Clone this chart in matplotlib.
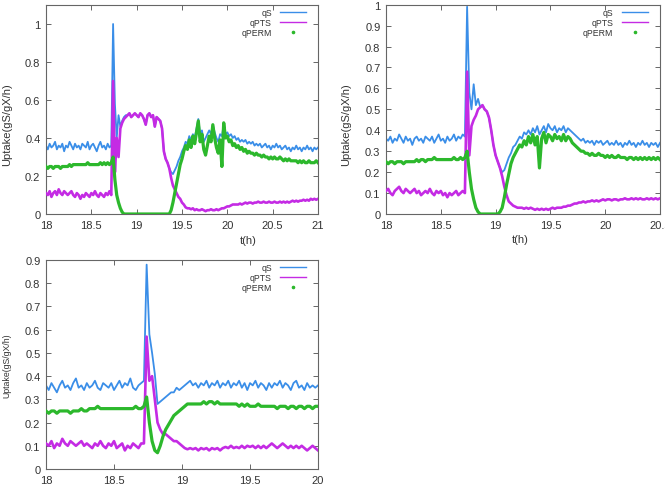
import numpy as np
import matplotlib
matplotlib.use("Agg")
import matplotlib.pyplot as plt
from matplotlib.lines import Line2D

plt.rcParams['font.family'] = ['Liberation Sans', 'DejaVu Sans']

# ---------------- Panel 1 (t = 18 .. 21, step 0.02) ----------------
t1 = np.linspace(18.0, 21.0, 151)
qS_1 = [0.36,0.34,0.37,0.35,0.36,0.38,0.34,0.36,0.35,0.37,0.33,0.36,0.35,0.38,0.36,0.34,0.37,0.35,0.36,0.34,
        0.37,0.36,0.35,0.38,0.34,0.36,0.37,0.35,0.33,0.36,0.38,0.35,0.36,0.34,0.37,0.35,0.36,
        1.00,0.58,0.40,0.52,0.46,0.49,0.51,0.52,
        0.52,0.53,0.51,0.52,0.53,0.52,0.51,0.53,0.52,0.50,0.47,0.52,0.53,0.51,0.52,0.46,0.51,0.50,0.49,0.45,
        0.33,0.29,0.27,0.24,0.22,0.21,0.23,0.25,0.28,0.30,0.33,0.35,0.38,0.37,0.41,0.39,0.42,0.40,0.45,0.50,
        0.42,0.44,0.38,0.40,0.42,0.44,0.42,0.47,0.43,0.40,0.38,0.42,0.41,0.47,0.42,0.43,0.41,0.42,0.40,0.41,
        0.39,0.40,0.38,0.39,0.38,0.39,0.37,0.38,0.37,0.38,0.36,0.37,0.36,0.37,0.35,0.36,0.37,0.35,0.36,0.34,
        0.36,0.35,0.37,0.35,0.36,0.34,0.35,0.36,0.34,0.35,0.33,0.35,0.34,0.36,0.34,0.35,0.33,0.35,0.34,0.36,
        0.34,0.35,0.33,0.35,0.34,0.35]
qPTS_1 = [0.11,0.10,0.12,0.09,0.11,0.12,0.10,0.13,0.11,0.10,0.12,0.11,0.10,0.11,0.12,0.10,0.09,0.11,0.10,0.08,
          0.10,0.09,0.11,0.10,0.09,0.11,0.10,0.12,0.10,0.09,0.11,0.10,0.09,0.11,0.10,0.12,0.10,
          0.70,0.22,0.40,0.30,0.45,0.48,0.50,0.51,
          0.52,0.53,0.51,0.52,0.53,0.52,0.51,0.53,0.52,0.50,0.47,0.52,0.53,0.51,0.52,0.46,0.51,0.50,0.49,0.45,
          0.33,0.29,0.27,0.24,0.19,0.15,0.13,0.11,0.09,0.08,0.06,0.05,0.035,0.03,0.03,0.025,0.03,0.02,0.025,0.02,
          0.02,0.025,0.02,0.015,0.02,0.02,0.025,0.02,0.02,0.025,0.02,0.025,0.03,0.03,0.035,0.04,0.04,0.045,0.05,0.05,
          0.05,0.05,0.055,0.05,0.055,0.06,0.055,0.06,0.06,0.055,0.06,0.06,0.065,0.06,0.06,0.065,0.06,0.06,0.065,0.06,
          0.06,0.065,0.06,0.06,0.065,0.06,0.065,0.06,0.065,0.06,0.065,0.07,0.065,0.07,0.065,0.07,0.07,0.075,0.07,0.075,
          0.07,0.08,0.075,0.08,0.075,0.08]
qPERM_1 = [0.25,0.24,0.25,0.25,0.24,0.25,0.25,0.25,0.24,0.25,0.25,0.25,0.25,0.26,0.25,0.26,0.26,0.26,0.26,0.26,
           0.26,0.26,0.26,0.27,0.26,0.26,0.26,0.26,0.26,0.26,0.27,0.26,0.27,0.26,0.27,0.26,0.27,
           0.30,0.18,0.10,0.06,0.03,0.01,0.00,0.00,
           0,0,0,0,0,0,0,0,0,0,0,0,0,0,0,0,0,0,0,0,
           0,0,0,0.00,0.02,0.06,0.11,0.16,0.21,0.26,0.29,0.33,0.36,0.34,0.39,0.35,0.41,0.37,0.43,0.49,
           0.38,0.42,0.34,0.31,0.36,0.41,0.38,0.47,0.40,0.35,0.32,0.39,0.25,0.48,0.40,0.41,0.38,0.39,0.36,0.37,
           0.35,0.36,0.34,0.35,0.33,0.34,0.32,0.33,0.32,0.32,0.31,0.32,0.31,0.31,0.30,0.31,0.30,0.30,0.29,0.30,
           0.29,0.30,0.29,0.29,0.30,0.29,0.28,0.29,0.28,0.29,0.28,0.28,0.28,0.28,0.27,0.28,0.27,0.28,0.27,0.27,
           0.28,0.27,0.27,0.27,0.28,0.27]

# ---------------- Panel 2 (t = 18 .. 20.5, step 0.02) ----------------
t2 = np.linspace(18.0, 20.5, 126)
qS_2 = [0.36,0.35,0.37,0.34,0.36,0.35,0.38,0.36,0.34,0.37,0.35,0.36,0.33,0.36,0.37,0.35,0.36,0.34,0.37,0.36,
        0.35,0.37,0.34,0.36,0.38,0.35,0.36,0.34,0.37,0.35,0.36,0.38,0.35,0.37,0.36,0.38,0.37,
        0.99,0.58,0.50,0.62,0.52,0.55,0.51,0.52,0.50,0.49,0.46,0.40,0.33,0.28,0.25,0.22,0.20,0.21,0.24,0.27,
        0.29,0.32,0.33,0.35,0.37,0.36,0.39,0.38,0.40,0.38,0.41,0.39,0.42,0.38,0.40,0.42,0.39,0.43,0.41,0.40,
        0.42,0.39,0.41,0.40,0.42,0.39,0.41,0.40,0.39,0.38,0.37,0.36,0.35,0.36,0.34,0.35,0.34,0.35,0.33,0.35,
        0.34,0.35,0.33,0.34,0.35,0.33,0.34,0.33,0.35,0.33,0.34,0.32,0.34,0.33,0.35,0.33,0.34,0.32,0.34,0.33,
        0.35,0.33,0.34,0.32,0.34,0.33,0.34,0.32,0.34]
qPTS_2 = [0.11,0.12,0.10,0.09,0.11,0.12,0.13,0.11,0.10,0.12,0.11,0.10,0.11,0.12,0.10,0.11,0.09,0.10,0.11,0.10,
          0.12,0.10,0.09,0.11,0.10,0.11,0.09,0.10,0.08,0.10,0.09,0.10,0.11,0.09,0.10,0.11,0.10,
          0.68,0.28,0.42,0.45,0.47,0.50,0.51,0.52,0.50,0.49,0.46,0.40,0.33,0.28,0.25,0.22,0.18,0.13,0.09,0.06,
          0.05,0.04,0.035,0.03,0.03,0.03,0.025,0.03,0.025,0.03,0.025,0.02,0.025,0.02,0.025,0.02,0.025,0.02,0.025,0.03,
          0.025,0.03,0.03,0.03,0.035,0.035,0.04,0.04,0.045,0.05,0.05,0.055,0.055,0.06,0.055,0.06,0.06,0.065,0.06,0.065,
          0.06,0.065,0.07,0.065,0.07,0.07,0.065,0.07,0.07,0.065,0.07,0.07,0.075,0.07,0.07,0.075,0.07,0.075,0.07,0.075,
          0.07,0.07,0.075,0.07,0.075,0.07,0.075,0.07,0.075]
qPERM_2 = [0.25,0.24,0.25,0.25,0.24,0.25,0.25,0.25,0.24,0.25,0.25,0.25,0.25,0.25,0.26,0.25,0.26,0.26,0.25,0.26,
           0.26,0.26,0.27,0.26,0.26,0.26,0.26,0.26,0.26,0.26,0.26,0.27,0.26,0.26,0.27,0.26,0.27,
           0.30,0.20,0.12,0.07,0.03,0.01,0.00,0,0,0,0,0,0,0.00,0.00,0.01,0.03,0.08,0.14,0.19,
           0.24,0.27,0.29,0.31,0.33,0.32,0.35,0.33,0.37,0.34,0.38,0.33,0.37,0.22,0.36,0.39,0.34,0.38,0.37,0.35,
           0.38,0.36,0.37,0.35,0.38,0.35,0.37,0.36,0.34,0.33,0.32,0.31,0.30,0.30,0.29,0.29,0.28,0.29,0.28,0.28,
           0.29,0.28,0.28,0.27,0.28,0.27,0.28,0.27,0.27,0.28,0.27,0.27,0.27,0.26,0.27,0.27,0.26,0.27,0.26,0.27,
           0.26,0.27,0.26,0.27,0.26,0.27,0.26,0.27,0.26]

# ---------------- Panel 3 (t = 18 .. 20, step 0.02) ----------------
t3 = np.linspace(18.0, 20.0, 101)
qS_3 = [0.36,0.34,0.37,0.35,0.33,0.36,0.38,0.35,0.36,0.34,0.37,0.39,0.35,0.36,0.34,0.37,0.35,0.36,0.38,0.35,
        0.34,0.37,0.36,0.35,0.37,0.34,0.36,0.38,0.35,0.37,0.36,0.39,0.35,0.34,0.36,0.37,0.38,
        0.88,0.58,0.50,0.41,0.28,0.29,0.30,0.31,0.32,0.33,0.33,0.35,0.34,0.35,0.36,0.37,0.38,0.36,0.37,0.35,
        0.37,0.36,0.38,0.35,0.37,0.36,0.38,0.35,0.37,0.36,0.38,0.35,0.37,0.36,0.38,0.35,0.37,0.34,0.37,0.36,
        0.38,0.35,0.37,0.36,0.34,0.37,0.35,0.37,0.36,0.38,0.35,0.37,0.36,0.34,0.37,0.38,0.35,0.36,0.34,0.37,
        0.35,0.36,0.35,0.36]
qPTS_3 = [0.11,0.10,0.12,0.09,0.11,0.10,0.13,0.11,0.10,0.12,0.11,0.10,0.11,0.12,0.10,0.11,0.10,0.09,0.11,0.10,
          0.12,0.10,0.09,0.11,0.10,0.12,0.09,0.10,0.11,0.08,0.10,0.09,0.11,0.10,0.09,0.11,0.11,
          0.57,0.38,0.40,0.30,0.20,0.17,0.15,0.15,0.14,0.13,0.12,0.12,0.11,0.10,0.09,0.085,0.09,0.085,0.09,0.08,
          0.09,0.085,0.09,0.08,0.09,0.085,0.09,0.08,0.09,0.095,0.09,0.10,0.09,0.095,0.09,0.10,0.09,0.10,0.095,0.10,
          0.09,0.10,0.09,0.10,0.09,0.10,0.11,0.10,0.09,0.10,0.11,0.10,0.09,0.10,0.09,0.10,0.09,0.10,0.09,0.08,
          0.09,0.10,0.09,0.08]
qPERM_3 = [0.25,0.24,0.25,0.25,0.24,0.25,0.25,0.25,0.25,0.24,0.25,0.25,0.25,0.26,0.25,0.25,0.26,0.26,0.26,0.27,
           0.26,0.26,0.26,0.26,0.26,0.26,0.26,0.26,0.26,0.26,0.26,0.26,0.26,0.27,0.26,0.26,0.27,
           0.31,0.20,0.12,0.08,0.07,0.10,0.14,0.17,0.19,0.21,0.23,0.24,0.25,0.26,0.27,0.28,0.28,0.28,0.28,0.28,
           0.28,0.29,0.28,0.29,0.29,0.28,0.29,0.28,0.28,0.28,0.28,0.28,0.28,0.28,0.27,0.28,0.27,0.28,0.27,0.27,
           0.27,0.28,0.27,0.27,0.27,0.27,0.27,0.27,0.26,0.27,0.27,0.27,0.26,0.27,0.27,0.26,0.27,0.27,0.26,0.27,
           0.27,0.26,0.27,0.27]

series_names = ["qS", "qPTS", "qPERM"]
ylabel = "Uptake(gS/gX/h)"
xlabel = "t(h)"

C_S = "#3a8ee8"
C_PTS = "#c42be4"
C_PERM = "#2cb82c"
FRAME = "#666666"
TXT = "#333333"

fig = plt.figure(figsize=(6.65, 4.89), dpi=100)
W, H = 665.0, 489.0

def make_axes(x0, x1, ytop, ybot):
    return fig.add_axes([x0 / W, 1 - ybot / H, (x1 - x0) / W, (ybot - ytop) / H])

def draw(ax, t, s, p, m, xlim, xticks, ylim, yticks):
    ax.plot(t, s, color=C_S, lw=1.3, zorder=2)
    ax.plot(t, p, color=C_PTS, lw=1.9, zorder=3)
    ax.plot(t, m, color=C_PERM, lw=2.3, zorder=4)
    ax.set_xlim(*xlim)
    ax.set_ylim(*ylim)
    ax.set_xticks(xticks)
    ax.set_xticklabels([("%g" % v) for v in xticks])
    ax.set_yticks(yticks)
    ax.set_yticklabels([("%g" % v) for v in yticks])
    ax.tick_params(direction='in', length=3.5, width=0.7, color=FRAME,
                   top=True, right=True, labelsize=8, labelcolor=TXT, pad=4)
    for sp in ax.spines.values():
        sp.set_color(FRAME)
        sp.set_linewidth(0.8)
    # gnuplot-style key (text right-aligned, sample to the right)
    rows = [0.965, 0.917, 0.869]
    cols = [C_S, C_PTS, C_PERM]
    for name, yy, c in zip(series_names, rows, cols):
        ax.text(0.83, yy, name, transform=ax.transAxes, ha='right', va='center',
                fontsize=6.3, color=TXT)
    for yy, c in zip(rows[:2], cols[:2]):
        ax.add_line(Line2D([0.862, 0.956], [yy, yy], transform=ax.transAxes,
                           color=c, lw=1.0))
    ax.add_line(Line2D([0.909], [rows[2]], transform=ax.transAxes, color=C_PERM,
                       marker='o', markersize=1.6, ls='none'))

ax1 = make_axes(46, 318, 6, 215)
draw(ax1, t1, qS_1, qPTS_1, qPERM_1, (18, 21), [18, 18.5, 19, 19.5, 20, 20.5, 21],
     (0, 1.1), [0, 0.2, 0.4, 0.6, 0.8, 1.0])
ax2 = make_axes(386, 660, 5.7, 215)
draw(ax2, t2, qS_2, qPTS_2, qPERM_2, (18, 20.5), [18, 18.5, 19, 19.5, 20, 20.5],
     (0, 1.0), [0, 0.1, 0.2, 0.3, 0.4, 0.5, 0.6, 0.7, 0.8, 0.9, 1.0])
ax3 = make_axes(46, 318, 261, 470)
draw(ax3, t3, qS_3, qPTS_3, qPERM_3, (18, 20), [18, 18.5, 19, 19.5, 20],
     (0, 0.9), [0, 0.1, 0.2, 0.3, 0.4, 0.5, 0.6, 0.7, 0.8, 0.9])

# axis labels
fig.text(7 / W, 1 - 125 / H, ylabel, rotation=90, ha='center', va='center', fontsize=8, color=TXT)
fig.text(346 / W, 1 - 125 / H, ylabel, rotation=90, ha='center', va='center', fontsize=8, color=TXT)
fig.text(7 / W, 1 - 366 / H, ylabel, rotation=90, ha='center', va='center', fontsize=6.3, color=TXT)
fig.text(248 / W, 1 - 241 / H, xlabel, ha='center', va='center', fontsize=8, color=TXT)
fig.text(520 / W, 1 - 240 / H, xlabel, ha='center', va='center', fontsize=8, color=TXT)

fig.savefig("out.png", dpi=100)
